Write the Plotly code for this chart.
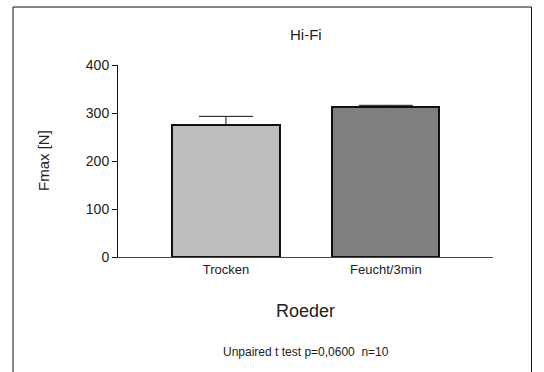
import plotly.graph_objects as go

categories = ["Trocken", "Feucht/3min"]
means = [274, 312]
sem = [19, 4]
colors = ["#BEBEBE", "#7F7F7F"]
y_ticks = [0, 100, 200, 300, 400]

FONT = "Liberation Sans, Arial, sans-serif"

fig = go.Figure()
fig.add_trace(go.Bar(
    x=categories, y=means,
    marker=dict(color=colors, line=dict(color="#111111", width=2)),
    width=0.67,
    error_y=dict(type="data", symmetric=False, array=sem, arrayminus=[0, 0],
                 color="#111111", thickness=1, width=27),
    showlegend=False,
))

fig.update_layout(
    width=544, height=372,
    margin=dict(l=118, r=51, t=65, b=115),
    paper_bgcolor="white", plot_bgcolor="white",
    font=dict(family=FONT, color="#222222"),
    xaxis=dict(range=[-0.675, 1.67], showline=True, linecolor="#444444", linewidth=1,
               ticks="", showgrid=False, zeroline=False,
               tickfont=dict(size=13, color="#222222")),
    yaxis=dict(range=[0, 400], tickvals=y_ticks, showline=True, linecolor="#111111",
               linewidth=1, ticks="outside", ticklen=5, tickcolor="#111111",
               showgrid=False, zeroline=False, tickfont=dict(size=14, color="#222222")),
    bargap=0,
)

ann = [
    dict(text="Hi-Fi", x=0.5, y=1.161, size=15),
    dict(text="Roeder", x=0.5, y=-0.281, size=18),
    dict(text="Unpaired t test p=0,0600  n=10", x=0.5, y=-0.495, size=12),
]
for a in ann:
    fig.add_annotation(text=a["text"], x=a["x"], y=a["y"], xref="paper", yref="paper",
                       showarrow=False, xanchor="center", yanchor="middle",
                       font=dict(size=a["size"], family=FONT, color="#222222"))
fig.add_annotation(text="Fmax [N]", x=-0.2, y=0.5, xref="paper", yref="paper",
                   showarrow=False, textangle=-90, xanchor="center", yanchor="middle",
                   font=dict(size=15, family=FONT, color="#222222"))

fig.add_shape(type="rect", xref="paper", yref="paper",
              x0=-0.28, x1=1.1027, y0=-0.7, y1=1.302,
              line=dict(color="#111111", width=1), fillcolor="rgba(0,0,0,0)")

fig.write_html("out.html")
